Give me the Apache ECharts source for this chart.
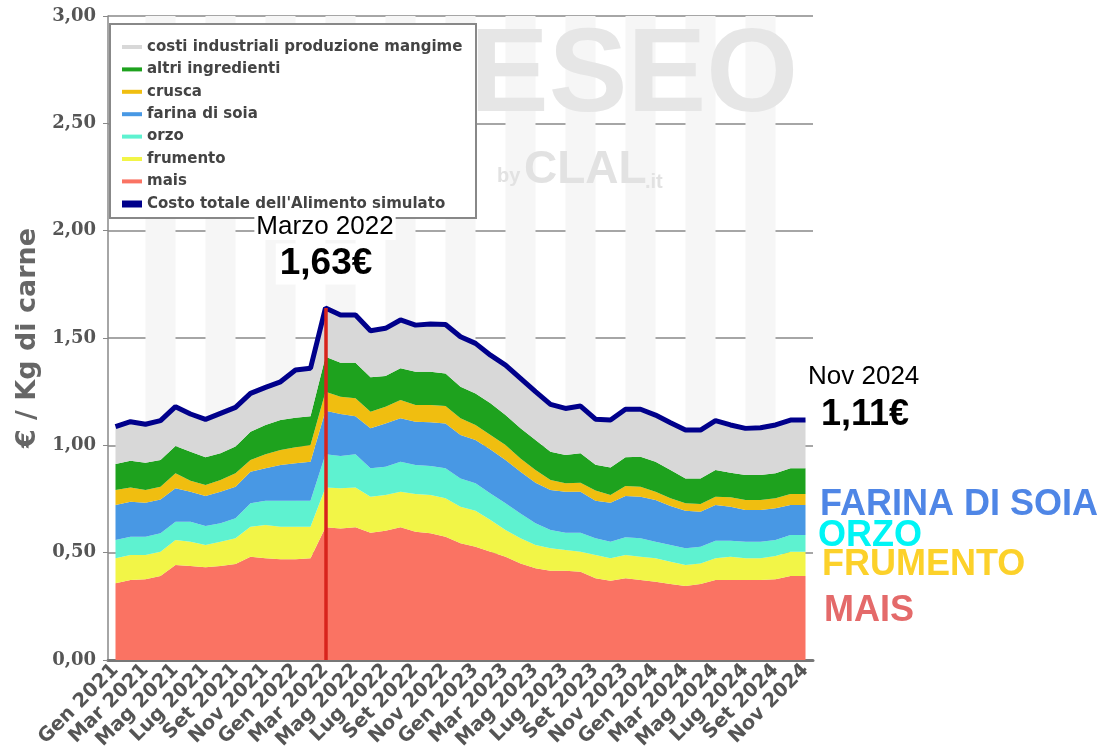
<!DOCTYPE html>
<html>
<head>
<meta charset="utf-8">
<script src="https://cdn.jsdelivr.net/npm/echarts/dist/echarts.min.js"></script>
<style>
html, body { margin: 0; padding: 0; background: #fff; }
#main { width: 1107px; height: 753px; }
</style>
</head>
<body>
<div id="main"></div>
<script>
// mesi (categorie asse x)
var mesi = ['Gen 2021','Feb 2021','Mar 2021','Apr 2021','Mag 2021','Giu 2021','Lug 2021','Ago 2021','Set 2021','Ott 2021','Nov 2021','Dic 2021',
            'Gen 2022','Feb 2022','Mar 2022','Apr 2022','Mag 2022','Giu 2022','Lug 2022','Ago 2022','Set 2022','Ott 2022','Nov 2022','Dic 2022',
            'Gen 2023','Feb 2023','Mar 2023','Apr 2023','Mag 2023','Giu 2023','Lug 2023','Ago 2023','Set 2023','Ott 2023','Nov 2023','Dic 2023',
            'Gen 2024','Feb 2024','Mar 2024','Apr 2024','Mag 2024','Giu 2024','Lug 2024','Ago 2024','Set 2024','Ott 2024','Nov 2024'];

// componenti del costo (€/kg), dal basso verso l'alto
var mais = [0.357,0.373,0.376,0.391,0.442,0.438,0.432,0.438,0.447,0.481,0.474,0.469,0.469,0.474,0.618,0.613,0.618,0.593,0.602,0.618,0.598,0.590,0.574,0.544,0.528,0.504,0.481,0.450,0.427,0.416,0.416,0.411,0.381,0.369,0.381,0.373,0.365,0.354,0.345,0.354,0.373,0.373,0.373,0.373,0.376,0.391,0.391];
var frumento = [0.117,0.116,0.113,0.113,0.117,0.113,0.104,0.113,0.120,0.140,0.155,0.152,0.152,0.147,0.186,0.187,0.186,0.168,0.167,0.166,0.175,0.179,0.179,0.170,0.167,0.148,0.125,0.117,0.109,0.104,0.096,0.093,0.108,0.105,0.108,0.108,0.109,0.104,0.097,0.096,0.101,0.108,0.101,0.101,0.108,0.113,0.113];
var orzo = [0.085,0.085,0.085,0.086,0.085,0.093,0.088,0.086,0.093,0.109,0.113,0.121,0.121,0.121,0.155,0.150,0.155,0.132,0.131,0.140,0.135,0.135,0.140,0.132,0.128,0.124,0.124,0.116,0.101,0.086,0.081,0.089,0.078,0.077,0.083,0.086,0.077,0.078,0.078,0.078,0.082,0.075,0.077,0.077,0.075,0.078,0.078];
var soia = [0.163,0.163,0.159,0.158,0.156,0.140,0.140,0.147,0.147,0.147,0.151,0.166,0.174,0.182,0.202,0.196,0.177,0.186,0.202,0.202,0.202,0.203,0.209,0.202,0.202,0.205,0.202,0.194,0.189,0.186,0.191,0.191,0.175,0.182,0.192,0.194,0.194,0.181,0.175,0.163,0.166,0.158,0.148,0.148,0.148,0.140,0.140];
var crusca = [0.070,0.067,0.059,0.059,0.070,0.051,0.051,0.054,0.063,0.055,0.066,0.070,0.075,0.077,0.089,0.080,0.083,0.078,0.078,0.085,0.078,0.081,0.081,0.078,0.070,0.067,0.069,0.062,0.059,0.046,0.039,0.042,0.048,0.036,0.046,0.046,0.039,0.036,0.035,0.036,0.039,0.044,0.046,0.046,0.046,0.051,0.051];
var altri = [0.121,0.124,0.127,0.125,0.127,0.135,0.129,0.125,0.124,0.131,0.136,0.140,0.138,0.135,0.163,0.159,0.166,0.160,0.143,0.148,0.155,0.155,0.152,0.147,0.147,0.148,0.140,0.140,0.140,0.132,0.132,0.137,0.120,0.128,0.134,0.140,0.140,0.132,0.116,0.119,0.124,0.114,0.117,0.117,0.117,0.120,0.120];
var costi = [0.174,0.182,0.179,0.183,0.183,0.176,0.177,0.186,0.183,0.179,0.175,0.178,0.222,0.223,0.227,0.222,0.222,0.217,0.222,0.225,0.217,0.222,0.228,0.233,0.233,0.224,0.233,0.233,0.225,0.221,0.217,0.220,0.212,0.221,0.224,0.221,0.217,0.220,0.225,0.225,0.230,0.223,0.217,0.220,0.225,0.225,0.225];
// costo totale
var totale = [1.087,1.110,1.098,1.115,1.180,1.146,1.121,1.149,1.177,1.242,1.270,1.296,1.351,1.359,1.640,1.607,1.607,1.534,1.545,1.584,1.560,1.565,1.563,1.506,1.475,1.420,1.374,1.312,1.250,1.191,1.172,1.183,1.122,1.118,1.168,1.168,1.141,1.105,1.071,1.071,1.115,1.095,1.079,1.082,1.095,1.118,1.118];

var picco = 14; // Marzo 2022

var myChart = echarts.init(document.getElementById('main'));

// bande grigie di sfondo (una ogni 4 mesi, larghe 2 mesi)
var bande = [];
for (var k = 2; k + 2 < mesi.length; k += 4) {
    bande.push([{ xAxis: mesi[k] }, { xAxis: mesi[k + 2] }]);
}

function area(name, data, color) {
    return {
        name: name, type: 'line', stack: 'tot', data: data,
        symbol: 'none', color: color, itemStyle: { color: color },
        lineStyle: { width: 0 }, areaStyle: { color: color, opacity: 1 },
        emphasis: { disabled: true }, silent: true, z: 2
    };
}

var legendText = { fontFamily: 'DejaVu Sans', fontWeight: 'bold', fontSize: 15, color: '#444', lineHeight: 16 };

var serieMais = area('mais', mais, '#fa7363');
serieMais.markArea = { silent: true, z: 0, itemStyle: { color: '#f6f6f6' }, label: { show: false }, data: bande };

var option = {
    animation: false,
    grid: { left: 108, top: 16, width: 705, height: 644 },
    legend: [{
        data: ['costi industriali produzione mangime', 'altri ingredienti', 'crusca', 'farina di soia', 'orzo', 'frumento', 'mais'],
        orient: 'vertical', left: 122, top: 39, padding: 0,
        itemWidth: 20, itemHeight: 4, itemGap: 6.4, icon: 'rect',
        selectedMode: false, textStyle: legendText
    }, {
        data: ["Costo totale dell'Alimento simulato"],
        orient: 'vertical', left: 122, top: 196, padding: 0,
        itemWidth: 20, itemHeight: 7, icon: 'rect',
        selectedMode: false, textStyle: legendText
    }],
    xAxis: {
        type: 'category', data: mesi, boundaryGap: true,
        axisLine: { lineStyle: { color: '#777', width: 3 } },
        axisTick: { alignWithLabel: true, interval: 1, length: 6, lineStyle: { color: '#666', width: 1.5 } },
        axisLabel: { interval: 1, rotate: 45, margin: 7, fontFamily: 'DejaVu Sans', fontWeight: 'bold', fontSize: 19.5, color: '#555' }
    },
    yAxis: {
        type: 'value', min: 0, max: 3, interval: 0.5,
        name: '€ / Kg di carne', nameLocation: 'middle', nameRotate: 90, nameGap: 64,
        nameTextStyle: { fontFamily: 'DejaVu Sans', fontWeight: 'bold', fontSize: 27, color: '#666' },
        axisLine: { show: true, lineStyle: { color: '#888', width: 1.5 } },
        axisTick: { show: true, length: 5, lineStyle: { color: '#888' } },
        axisLabel: {
            margin: 12, fontFamily: 'DejaVu Serif', fontWeight: 'bold', fontSize: 18, color: '#555',
            formatter: function (v) { return v.toFixed(2).replace('.', ','); }
        },
        splitLine: { lineStyle: { color: '#888', width: 1.5 } }
    },
    series: [
        serieMais,
        area('frumento', frumento, '#f2f547'),
        area('orzo', orzo, '#5ef2d0'),
        area('farina di soia', soia, '#4898e4'),
        area('crusca', crusca, '#f0be10'),
        area('altri ingredienti', altri, '#1ea21e'),
        area('costi industriali produzione mangime', costi, '#d8d8d8'),
        {
            name: "Costo totale dell'Alimento simulato", type: 'line', data: totale,
            symbol: 'none', color: '#00008b', itemStyle: { color: '#00008b' },
            lineStyle: { width: 5, color: '#00008b' }, silent: true, z: 3,
            markLine: {
                silent: true, symbol: 'none', label: { show: false },
                lineStyle: { color: '#d8231c', width: 3.5, type: 'solid' },
                data: [[{ coord: [mesi[picco], 0] }, { coord: [mesi[picco], totale[picco]] }]]
            }
        }
    ],
    graphic: [
        // filigrana
        { type: 'text', z: 2, silent: true, style: { text: 'TESEO', x: 398, y: 78, verticalAlign: 'middle', fontFamily: 'Liberation Sans', fontWeight: 'bold', fontSize: 118, fill: '#e6e6e6' } },
        { type: 'text', z: 2, silent: true, style: { text: 'by', x: 497, y: 176, verticalAlign: 'middle', fontFamily: 'Liberation Sans', fontWeight: 'bold', fontSize: 20, fill: '#e2e2e2' } },
        { type: 'text', z: 2, silent: true, style: { text: 'CLAL', x: 524, y: 170, verticalAlign: 'middle', fontFamily: 'Liberation Sans', fontWeight: 'bold', fontSize: 46, fill: '#e2e2e2' } },
        { type: 'text', z: 2, silent: true, style: { text: '.it', x: 645, y: 182, verticalAlign: 'middle', fontFamily: 'Liberation Sans', fontWeight: 'bold', fontSize: 20, fill: '#e2e2e2' } },
        // riquadro legenda
        { type: 'rect', z: 3, silent: true, shape: { x: 110, y: 24, width: 366, height: 194 }, style: { fill: '#fff', stroke: '#888', lineWidth: 2 } },
        // annotazioni
        { type: 'text', z: 10, style: { text: 'Marzo 2022', x: 325, y: 227, align: 'center', verticalAlign: 'middle', fontFamily: 'Liberation Sans', fontSize: 26, fill: '#000', backgroundColor: '#fff', padding: [0, 2] } },
        { type: 'text', z: 10, style: { text: '1,63€', x: 326, y: 264, align: 'center', verticalAlign: 'middle', fontFamily: 'Liberation Sans', fontWeight: 'bold', fontSize: 37, fill: '#000', backgroundColor: '#fff', padding: [2, 4] } },
        { type: 'text', z: 10, style: { text: 'Nov 2024', x: 808, y: 377, verticalAlign: 'middle', fontFamily: 'Liberation Sans', fontSize: 26, fill: '#000' } },
        { type: 'text', z: 10, style: { text: '1,11€', x: 821, y: 415, verticalAlign: 'middle', fontFamily: 'Liberation Sans', fontWeight: 'bold', fontSize: 36, fill: '#000' } },
        { type: 'text', z: 10, style: { text: 'FARINA DI SOIA', x: 820, y: 505, verticalAlign: 'middle', fontFamily: 'Liberation Sans', fontWeight: 'bold', fontSize: 36, fill: '#4f86e6' } },
        { type: 'text', z: 10, style: { text: 'ORZO', x: 818, y: 536, verticalAlign: 'middle', fontFamily: 'Liberation Sans', fontWeight: 'bold', fontSize: 36, fill: '#00f5f5' } },
        { type: 'text', z: 10, style: { text: 'FRUMENTO', x: 822, y: 565, verticalAlign: 'middle', fontFamily: 'Liberation Sans', fontWeight: 'bold', fontSize: 36, fill: '#fcd12a' } },
        { type: 'text', z: 10, style: { text: 'MAIS', x: 824, y: 611, verticalAlign: 'middle', fontFamily: 'Liberation Sans', fontWeight: 'bold', fontSize: 36, fill: '#e46a6a' } }
    ]
};

myChart.setOption(option);
</script>
</body>
</html>
